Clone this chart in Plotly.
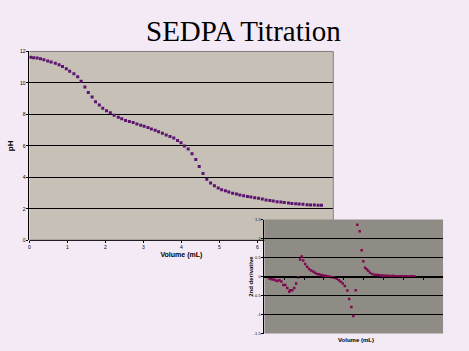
import plotly.graph_objects as go

W, H = 469, 351

# ---- main titration curve ----
volume_ml = [0.03, 0.11, 0.20, 0.29, 0.38, 0.48, 0.57, 0.68, 0.78, 0.87, 0.97, 1.06, 1.17, 1.27,
             1.36, 1.46, 1.55, 1.65, 1.74, 1.84, 1.93, 2.03, 2.13, 2.23, 2.34, 2.43, 2.53, 2.63,
             2.73, 2.83, 2.93, 3.02, 3.12, 3.21, 3.31, 3.40, 3.50, 3.60, 3.70, 3.80, 3.90, 3.99,
             4.08, 4.18, 4.28, 4.38, 4.47, 4.57, 4.67, 4.77, 4.87, 4.97, 5.06, 5.16, 5.25, 5.35,
             5.45, 5.54, 5.64, 5.74, 5.83, 5.93, 6.03, 6.13, 6.23, 6.33, 6.42, 6.52, 6.62, 6.71,
             6.82, 6.91, 7.01, 7.10, 7.20, 7.31, 7.40, 7.50, 7.60, 7.69]
ph_values = [11.63, 11.60, 11.58, 11.54, 11.48, 11.40, 11.33, 11.25, 11.15, 11.05, 10.90, 10.75,
             10.58, 10.40, 10.10, 9.75, 9.40, 9.10, 8.80, 8.60, 8.40, 8.24, 8.10, 7.95, 7.82, 7.72,
             7.62, 7.55, 7.48, 7.40, 7.31, 7.25, 7.17, 7.08, 7.00, 6.90, 6.80, 6.70, 6.60, 6.50,
             6.35, 6.20, 6.00, 5.80, 5.50, 5.14, 4.70, 4.25, 3.88, 3.65, 3.47, 3.33, 3.22, 3.15,
             3.07, 3.00, 2.94, 2.88, 2.83, 2.79, 2.75, 2.71, 2.67, 2.63, 2.57, 2.53, 2.50, 2.46,
             2.44, 2.40, 2.38, 2.35, 2.33, 2.31, 2.29, 2.27, 2.25, 2.25, 2.23, 2.23]
main_xticks = [0, 1, 2, 3, 4, 5, 6]
main_yticks = [0, 2, 4, 6, 8, 10, 12]

# ---- inset: 2nd derivative ----
deriv_volume = [0.25, 0.35, 0.45, 0.55, 0.65, 0.75, 0.85, 0.95, 1.05, 1.15, 1.25, 1.30, 1.40,
                1.50, 1.60, 1.70, 1.80, 1.88, 1.95, 2.05, 2.15, 2.25, 2.35, 2.45, 2.55, 2.65,
                2.75, 2.85, 2.95, 3.05, 3.15, 3.25, 3.35, 3.45, 3.55, 3.65, 3.75, 3.85, 3.95,
                4.05, 4.18, 4.27, 4.38, 4.48, 4.60, 4.68, 4.80, 4.90, 4.98, 5.07, 5.15, 5.23,
                5.32, 5.43, 5.55, 5.65, 5.75, 5.85, 5.95, 6.05, 6.15, 6.25, 6.35, 6.45, 6.55,
                6.65, 6.75, 6.85, 6.95, 7.05, 7.15, 7.25, 7.35, 7.45, 7.55]
deriv_values = [-0.05, -0.07, -0.08, -0.10, -0.12, -0.10, -0.13, -0.22, -0.22, -0.30, -0.40,
                -0.36, -0.36, -0.30, -0.18, -0.02, 0.45, 0.53, 0.42, 0.33, 0.26, 0.20, 0.16,
                0.13, 0.10, 0.07, 0.06, 0.04, 0.03, 0.02, 0.01, 0.00, -0.01, -0.02, -0.03,
                -0.06, -0.10, -0.14, -0.18, -0.25, -0.37, -0.59, -0.80, -1.04, -0.36, 1.36,
                1.19, 0.69, 0.40, 0.23, 0.19, 0.15, 0.10, 0.07, 0.05, 0.04, 0.04, 0.03, 0.03,
                0.02, 0.02, 0.02, 0.01, 0.02, 0.01, 0.01, 0.01, 0.01, 0.01, 0.01, 0.01, 0.00,
                0.01, 0.01, 0.01]
inset_xticks = [1, 2, 3, 4, 5, 6, 7, 8]
inset_yticks = [-1.5, -1, -0.5, 0, 0.5, 1, 1.5]
inset_yticklabels = ["-1.5", "-1", "-0.5", "0", "0.5", "1", "1.5"]


def px_x(p):
    return p / W


def px_y(p):
    return 1 - p / H


tick_font = dict(family="Liberation Sans", size=5, color="black")

fig = go.Figure()
fig.add_trace(go.Scatter(x=volume_ml, y=ph_values, mode="markers",
                         marker=dict(symbol="square", size=3, color="#5c1470"),
                         xaxis="x", yaxis="y", showlegend=False))
fig.add_trace(go.Scatter(x=deriv_volume, y=deriv_values, mode="markers",
                         marker=dict(symbol="square", size=2.5, color="#7e0a50"),
                         xaxis="x2", yaxis="y2", showlegend=False))

main_l, main_r, main_t, main_b = 28.5, 333, 49.3, 241.5
in_l, in_r, in_t, in_b = 264, 443, 220.3, 336.3
zero_y = in_b - (in_b - in_t) * 1.5 / 3.0

fig.update_layout(
    width=W, height=H, margin=dict(l=0, r=0, t=0, b=0),
    paper_bgcolor="#f4eaf5", plot_bgcolor="rgba(0,0,0,0)",
    xaxis=dict(domain=[px_x(main_l), px_x(main_r)], range=[0, 8], anchor="y",
               showgrid=False, zeroline=False, showline=False,
               tickvals=main_xticks, ticks="outside", ticklen=2, tickcolor="black",
               tickfont=tick_font,
               title=dict(text="<b>Volume (mL)</b>",
                          font=dict(family="Liberation Sans", size=7, color="black"),
                          standoff=2)),
    yaxis=dict(domain=[px_y(main_b), px_y(main_t)], range=[0, 12], anchor="x",
               showgrid=True, gridcolor="black", gridwidth=1, zeroline=False,
               showline=True, linecolor="black", linewidth=1,
               tickvals=main_yticks, ticks="outside", ticklen=2, tickcolor="black",
               tickfont=tick_font,
               title=dict(text="<b>pH</b>", font=dict(family="Liberation Sans", size=8, color="black"),
                          standoff=5)),
    xaxis2=dict(domain=[px_x(in_l), px_x(in_r)], range=[0, 9], anchor="free",
                position=px_y(zero_y), showgrid=False, zeroline=False,
                showline=True, linecolor="black", linewidth=1,
                tickvals=inset_xticks, ticks="outside", ticklen=2, tickcolor="black",
                showticklabels=False),
    yaxis2=dict(domain=[px_y(in_b), px_y(in_t)], range=[-1.5, 1.5], anchor="x2",
                showgrid=True, gridcolor="black", gridwidth=1, zeroline=True,
                zerolinecolor="black", zerolinewidth=1,
                showline=True, linecolor="black", linewidth=1,
                tickvals=inset_yticks, ticktext=inset_yticklabels,
                ticks="outside", ticklen=2, tickcolor="black",
                tickfont=dict(family="Liberation Sans", size=4, color="black")),
    shapes=[
        # main plot background
        dict(type="rect", xref="paper", yref="paper", x0=px_x(main_l), x1=px_x(main_r),
             y0=px_y(main_b), y1=px_y(main_t), fillcolor="#c6c0b6", line=dict(width=0), layer="below"),
        # inset plot background
        dict(type="rect", xref="paper", yref="paper", x0=px_x(in_l), x1=px_x(in_r),
             y0=px_y(in_b), y1=px_y(in_t), fillcolor="#8f8c86", line=dict(width=0), layer="below"),
        # main plot top and right border (grey)
        dict(type="line", xref="paper", yref="paper", x0=px_x(main_l), x1=px_x(main_r),
             y0=px_y(main_t), y1=px_y(main_t), line=dict(color="#808080", width=1)),
        dict(type="line", xref="paper", yref="paper", x0=px_x(main_r), x1=px_x(main_r),
             y0=px_y(main_t), y1=px_y(in_t), line=dict(color="#808080", width=1)),
        # main x-axis line (visible part, left of inset)
        dict(type="line", xref="paper", yref="paper", x0=px_x(main_l), x1=px_x(in_l),
             y0=px_y(main_b), y1=px_y(main_b), line=dict(color="black", width=1)),
    ],
    annotations=[
        dict(text="SEDPA Titration", x=px_x(243), y=px_y(28), xref="paper", yref="paper",
             xanchor="center", yanchor="middle", showarrow=False,
             font=dict(family="Liberation Serif", size=29, color="black")),
        dict(text="<b>Volume (mL)</b>", x=px_x(356), y=px_y(343), xref="paper", yref="paper",
             xanchor="center", yanchor="middle", showarrow=False,
             font=dict(family="Liberation Sans", size=6, color="black")),
        dict(text="<b>2nd derivative</b>", x=px_x(251), y=px_y(278), xref="paper", yref="paper",
             xanchor="center", yanchor="middle", showarrow=False, textangle=-90,
             font=dict(family="Liberation Sans", size=6, color="black")),
    ],
)

fig.write_html("out.html")
